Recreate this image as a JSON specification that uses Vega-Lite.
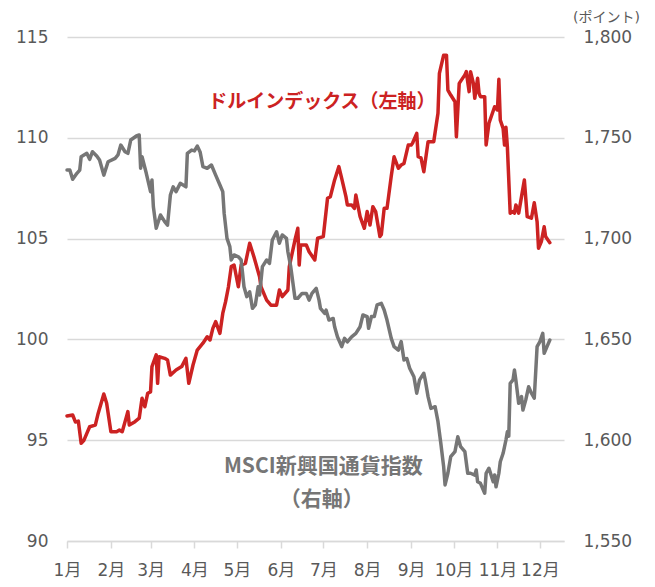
{
  "$schema": "https://vega.github.io/schema/vega-lite/v6.json",
  "width": 497,
  "height": 504,
  "autosize": {"type": "none"},
  "padding": {"left": 67, "top": 37, "right": 91, "bottom": 46},
  "background": "white",
  "config": {
    "view": {"stroke": null},
    "font": "DejaVu Sans, Noto Sans CJK JP",
    "axis": {"labelFont": "DejaVu Sans, Noto Sans CJK JP", "labelFontSize": 17, "labelColor": "#595959"}
  },
  "datasets": {
    "dxy": [
      {"date":"2022-01-01","value":96.2},{"date":"2022-01-05","value":96.25},{"date":"2022-01-07","value":95.9},{"date":"2022-01-09","value":95.95},{"date":"2022-01-11","value":94.85},{"date":"2022-01-13","value":95.0},{"date":"2022-01-15","value":95.34},{"date":"2022-01-17","value":95.67},{"date":"2022-01-21","value":95.75},{"date":"2022-01-23","value":96.33},{"date":"2022-01-27","value":97.29},{"date":"2022-01-29","value":96.83},
      {"date":"2022-02-01","value":95.42},{"date":"2022-02-05","value":95.42},{"date":"2022-02-07","value":95.5},{"date":"2022-02-09","value":95.42},{"date":"2022-02-12","value":96.17},{"date":"2022-02-13","value":96.42},{"date":"2022-02-14","value":95.75},{"date":"2022-02-18","value":95.92},{"date":"2022-02-21","value":96.09},{"date":"2022-02-23","value":97.08},{"date":"2022-02-25","value":96.66},{"date":"2022-02-27","value":97.33},
      {"date":"2022-03-01","value":97.4},{"date":"2022-03-02","value":98.65},{"date":"2022-03-05","value":99.23},{"date":"2022-03-06","value":97.82},{"date":"2022-03-07","value":99.14},{"date":"2022-03-11","value":99.06},{"date":"2022-03-13","value":98.98},{"date":"2022-03-15","value":98.23},{"date":"2022-03-19","value":98.48},{"date":"2022-03-23","value":98.65},{"date":"2022-03-26","value":99.06},{"date":"2022-03-28","value":97.82},{"date":"2022-03-31","value":98.73},
      {"date":"2022-04-03","value":99.47},{"date":"2022-04-07","value":99.81},{"date":"2022-04-10","value":100.13},{"date":"2022-04-12","value":99.97},{"date":"2022-04-14","value":100.55},{"date":"2022-04-16","value":100.88},{"date":"2022-04-19","value":100.3},{"date":"2022-04-21","value":101.29},{"date":"2022-04-23","value":101.87},{"date":"2022-04-25","value":102.6},{"date":"2022-04-27","value":103.61},{"date":"2022-04-29","value":103.69},
      {"date":"2022-05-02","value":102.61},{"date":"2022-05-04","value":103.69},{"date":"2022-05-07","value":103.77},{"date":"2022-05-10","value":104.77},{"date":"2022-05-13","value":104.1},{"date":"2022-05-17","value":103.11},{"date":"2022-05-18","value":102.61},{"date":"2022-05-22","value":101.95},{"date":"2022-05-25","value":101.7},{"date":"2022-05-29","value":101.7},{"date":"2022-05-31","value":102.45},
      {"date":"2022-06-02","value":102.12},{"date":"2022-06-06","value":102.45},{"date":"2022-06-07","value":103.61},{"date":"2022-06-11","value":104.93},{"date":"2022-06-13","value":105.51},{"date":"2022-06-14","value":103.69},{"date":"2022-06-15","value":104.68},{"date":"2022-06-19","value":104.68},{"date":"2022-06-21","value":104.35},{"date":"2022-06-25","value":103.94},{"date":"2022-06-27","value":105.02},
      {"date":"2022-07-01","value":105.1},{"date":"2022-07-04","value":107.0},{"date":"2022-07-06","value":107.08},{"date":"2022-07-09","value":107.91},{"date":"2022-07-12","value":108.57},{"date":"2022-07-14","value":107.99},{"date":"2022-07-17","value":107.08},{"date":"2022-07-18","value":106.67},{"date":"2022-07-21","value":106.67},{"date":"2022-07-23","value":106.5},{"date":"2022-07-24","value":107.16},{"date":"2022-07-27","value":106.09},{"date":"2022-07-30","value":105.51},
      {"date":"2022-08-01","value":106.34},{"date":"2022-08-03","value":105.67},{"date":"2022-08-05","value":106.58},{"date":"2022-08-07","value":106.34},{"date":"2022-08-10","value":105.1},{"date":"2022-08-11","value":105.2},{"date":"2022-08-13","value":106.5},{"date":"2022-08-15","value":106.5},{"date":"2022-08-18","value":108.1},{"date":"2022-08-20","value":109.06},{"date":"2022-08-23","value":108.49},{"date":"2022-08-25","value":108.65},{"date":"2022-08-27","value":108.73},{"date":"2022-08-30","value":109.64},
      {"date":"2022-09-01","value":109.64},{"date":"2022-09-02","value":109.73},{"date":"2022-09-05","value":110.22},{"date":"2022-09-06","value":109.06},{"date":"2022-09-08","value":109.0},{"date":"2022-09-10","value":108.32},{"date":"2022-09-13","value":109.81},{"date":"2022-09-17","value":109.81},{"date":"2022-09-20","value":111.22},{"date":"2022-09-21","value":113.2},{"date":"2022-09-24","value":114.1},{"date":"2022-09-26","value":114.1},{"date":"2022-09-27","value":112.37},{"date":"2022-09-29","value":112.12},
      {"date":"2022-10-02","value":111.79},{"date":"2022-10-03","value":110.05},{"date":"2022-10-05","value":112.7},{"date":"2022-10-09","value":113.12},{"date":"2022-10-10","value":113.28},{"date":"2022-10-12","value":112.29},{"date":"2022-10-13","value":113.28},{"date":"2022-10-15","value":112.7},{"date":"2022-10-16","value":111.96},{"date":"2022-10-18","value":112.95},{"date":"2022-10-19","value":112.21},{"date":"2022-10-20","value":112.04},{"date":"2022-10-23","value":112.04},{"date":"2022-10-24","value":109.64},{"date":"2022-10-26","value":110.72},{"date":"2022-10-30","value":111.54},
      {"date":"2022-11-01","value":111.38},{"date":"2022-11-02","value":112.9},{"date":"2022-11-03","value":110.88},{"date":"2022-11-05","value":110.47},{"date":"2022-11-06","value":109.64},{"date":"2022-11-07","value":110.52},{"date":"2022-11-08","value":109.56},{"date":"2022-11-10","value":106.26},{"date":"2022-11-12","value":106.34},{"date":"2022-11-13","value":106.26},{"date":"2022-11-14","value":106.67},{"date":"2022-11-16","value":106.26},{"date":"2022-11-18","value":107.08},{"date":"2022-11-20","value":107.91},{"date":"2022-11-22","value":106.09},{"date":"2022-11-25","value":106.01},{"date":"2022-11-27","value":106.78},{"date":"2022-11-29","value":105.84},{"date":"2022-11-30","value":104.52},
      {"date":"2022-12-02","value":104.85},{"date":"2022-12-04","value":105.59},{"date":"2022-12-05","value":105.1},{"date":"2022-12-08","value":104.8}
    ],
    "em": [
      {"date":"2022-01-01","value":1734.0},{"date":"2022-01-03","value":1734.0},{"date":"2022-01-05","value":1729.4},{"date":"2022-01-08","value":1732.4},{"date":"2022-01-10","value":1734.0},{"date":"2022-01-11","value":1740.6},{"date":"2022-01-15","value":1742.3},{"date":"2022-01-17","value":1739.3},{"date":"2022-01-19","value":1743.1},{"date":"2022-01-22","value":1741.0},{"date":"2022-01-24","value":1739.0},{"date":"2022-01-27","value":1731.5},{"date":"2022-01-30","value":1738.1},
      {"date":"2022-02-04","value":1739.8},{"date":"2022-02-06","value":1741.5},{"date":"2022-02-08","value":1746.4},{"date":"2022-02-11","value":1743.1},{"date":"2022-02-13","value":1742.3},{"date":"2022-02-15","value":1748.9},{"date":"2022-02-19","value":1750.9},{"date":"2022-02-21","value":1751.4},{"date":"2022-02-22","value":1734.9},{"date":"2022-02-23","value":1740.6},{"date":"2022-02-26","value":1732.4},
      {"date":"2022-03-01","value":1723.3},{"date":"2022-03-02","value":1729.1},{"date":"2022-03-03","value":1715.8},{"date":"2022-03-05","value":1705.1},{"date":"2022-03-08","value":1711.7},{"date":"2022-03-11","value":1708.4},{"date":"2022-03-13","value":1706.7},{"date":"2022-03-15","value":1721.6},{"date":"2022-03-17","value":1725.7},{"date":"2022-03-19","value":1723.3},{"date":"2022-03-22","value":1727.4},{"date":"2022-03-24","value":1726.6},{"date":"2022-03-26","value":1725.7},{"date":"2022-03-27","value":1742.3},{"date":"2022-03-30","value":1743.9},
      {"date":"2022-04-01","value":1743.5},{"date":"2022-04-03","value":1745.9},{"date":"2022-04-05","value":1743.0},{"date":"2022-04-07","value":1735.7},{"date":"2022-04-10","value":1734.9},{"date":"2022-04-13","value":1736.5},{"date":"2022-04-16","value":1731.5},{"date":"2022-04-19","value":1726.6},{"date":"2022-04-21","value":1723.3},{"date":"2022-04-22","value":1712.5},{"date":"2022-04-24","value":1700.1},{"date":"2022-04-26","value":1696.0},{"date":"2022-04-27","value":1689.4},{"date":"2022-04-29","value":1691.9},
      {"date":"2022-05-02","value":1691.0},{"date":"2022-05-04","value":1689.4},{"date":"2022-05-06","value":1676.1},{"date":"2022-05-08","value":1671.2},{"date":"2022-05-10","value":1673.6},{"date":"2022-05-12","value":1665.4},{"date":"2022-05-14","value":1667.1},{"date":"2022-05-16","value":1676.1},{"date":"2022-05-17","value":1672.0},{"date":"2022-05-19","value":1686.1},{"date":"2022-05-22","value":1689.4},{"date":"2022-05-24","value":1687.7},{"date":"2022-05-26","value":1699.3},{"date":"2022-05-29","value":1703.4},{"date":"2022-05-31","value":1697.7},
      {"date":"2022-06-02","value":1701.8},{"date":"2022-06-05","value":1700.1},{"date":"2022-06-06","value":1693.5},{"date":"2022-06-08","value":1686.1},{"date":"2022-06-11","value":1670.4},{"date":"2022-06-13","value":1670.4},{"date":"2022-06-16","value":1672.8},{"date":"2022-06-19","value":1672.8},{"date":"2022-06-21","value":1669.5},{"date":"2022-06-23","value":1672.8},{"date":"2022-06-26","value":1675.3},{"date":"2022-06-28","value":1669.5},{"date":"2022-06-29","value":1665.4},
      {"date":"2022-07-02","value":1662.9},{"date":"2022-07-03","value":1664.5},{"date":"2022-07-05","value":1659.6},{"date":"2022-07-08","value":1660.4},{"date":"2022-07-09","value":1656.3},{"date":"2022-07-11","value":1651.3},{"date":"2022-07-14","value":1646.4},{"date":"2022-07-16","value":1650.5},{"date":"2022-07-18","value":1648.8},{"date":"2022-07-21","value":1651.3},{"date":"2022-07-24","value":1653.0},{"date":"2022-07-27","value":1656.3},{"date":"2022-07-29","value":1662.1},
      {"date":"2022-08-01","value":1661.3},{"date":"2022-08-02","value":1655.5},{"date":"2022-08-04","value":1661.3},{"date":"2022-08-06","value":1661.3},{"date":"2022-08-08","value":1667.1},{"date":"2022-08-11","value":1667.9},{"date":"2022-08-13","value":1664.6},{"date":"2022-08-15","value":1659.6},{"date":"2022-08-18","value":1650.5},{"date":"2022-08-20","value":1646.4},{"date":"2022-08-23","value":1644.7},{"date":"2022-08-25","value":1648.9},{"date":"2022-08-27","value":1639.8},{"date":"2022-08-29","value":1640.5},{"date":"2022-08-31","value":1635.7},
      {"date":"2022-09-03","value":1631.5},{"date":"2022-09-05","value":1623.3},{"date":"2022-09-07","value":1629.9},{"date":"2022-09-10","value":1633.2},{"date":"2022-09-11","value":1629.9},{"date":"2022-09-13","value":1621.6},{"date":"2022-09-15","value":1615.8},{"date":"2022-09-18","value":1616.6},{"date":"2022-09-20","value":1609.2},{"date":"2022-09-22","value":1598.5},{"date":"2022-09-24","value":1586.9},{"date":"2022-09-25","value":1577.8},{"date":"2022-09-27","value":1583.6},{"date":"2022-09-29","value":1591.8},
      {"date":"2022-10-02","value":1594.3},{"date":"2022-10-04","value":1601.7},{"date":"2022-10-06","value":1596.8},{"date":"2022-10-09","value":1594.3},{"date":"2022-10-11","value":1583.6},{"date":"2022-10-13","value":1583.6},{"date":"2022-10-16","value":1582.7},{"date":"2022-10-17","value":1585.2},{"date":"2022-10-18","value":1579.4},{"date":"2022-10-20","value":1578.6},{"date":"2022-10-23","value":1573.7},{"date":"2022-10-24","value":1583.6},{"date":"2022-10-26","value":1586.1},{"date":"2022-10-29","value":1579.4},{"date":"2022-10-30","value":1582.7},{"date":"2022-10-31","value":1576.9},
      {"date":"2022-11-02","value":1583.6},{"date":"2022-11-03","value":1589.3},{"date":"2022-11-05","value":1593.5},{"date":"2022-11-07","value":1600.1},{"date":"2022-11-08","value":1604.2},{"date":"2022-11-09","value":1602.0},{"date":"2022-11-10","value":1628.2},{"date":"2022-11-12","value":1629.9},{"date":"2022-11-13","value":1634.8},{"date":"2022-11-14","value":1629.9},{"date":"2022-11-16","value":1618.3},{"date":"2022-11-18","value":1621.6},{"date":"2022-11-19","value":1615.0},{"date":"2022-11-21","value":1620.0},{"date":"2022-11-23","value":1626.5},{"date":"2022-11-25","value":1623.3},{"date":"2022-11-27","value":1620.8},{"date":"2022-11-29","value":1646.4},
      {"date":"2022-12-01","value":1648.9},{"date":"2022-12-03","value":1653.0},{"date":"2022-12-04","value":1643.1},{"date":"2022-12-06","value":1646.4},{"date":"2022-12-08","value":1649.7}
    ]
  },
  "encoding": {
    "x": {
      "field": "date",
      "type": "temporal",
      "scale": {"type": "utc", "domain": [{"year": 2022, "month": 1, "date": 1, "utc": true}, {"year": 2022, "month": 12, "date": 18, "utc": true}]},
      "axis": {
        "title": null,
        "grid": false,
        "domain": true,
        "domainColor": "#d9d9d9",
        "domainWidth": 1.5,
        "ticks": true,
        "tickColor": "#d9d9d9",
        "tickWidth": 1.5,
        "tickSize": 7,
        "labelPadding": 14,
        "labelAlign": "center",
        "labelOverlap": false,
        "labelExpr": "(utcmonth(datum.value) + 1) + '月'",
        "values": [
          {"year": 2022, "month": 1, "date": 1, "utc": true},
          {"year": 2022, "month": 2, "date": 1, "utc": true},
          {"year": 2022, "month": 3, "date": 1, "utc": true},
          {"year": 2022, "month": 4, "date": 1, "utc": true},
          {"year": 2022, "month": 5, "date": 1, "utc": true},
          {"year": 2022, "month": 6, "date": 1, "utc": true},
          {"year": 2022, "month": 7, "date": 1, "utc": true},
          {"year": 2022, "month": 8, "date": 1, "utc": true},
          {"year": 2022, "month": 9, "date": 1, "utc": true},
          {"year": 2022, "month": 10, "date": 1, "utc": true},
          {"year": 2022, "month": 11, "date": 1, "utc": true},
          {"year": 2022, "month": 12, "date": 1, "utc": true}
        ]
      }
    }
  },
  "layer": [
    {
      "data": {"name": "dxy"},
      "mark": {"type": "line", "color": "#cc2222", "strokeWidth": 3.5, "strokeJoin": "round", "strokeCap": "round"},
      "encoding": {
        "y": {
          "field": "value",
          "type": "quantitative",
          "scale": {"domain": [90, 115], "nice": false, "zero": false},
          "axis": {
            "title": null,
            "orient": "left",
            "values": [90, 95, 100, 105, 110, 115],
            "domain": false,
            "ticks": false,
            "tickSize": 0,
            "labelPadding": 19,
            "grid": true,
            "gridColor": "#d9d9d9",
            "gridWidth": 1.5
          }
        }
      }
    },
    {
      "data": {"name": "em"},
      "mark": {"type": "line", "color": "#767676", "strokeWidth": 3.5, "strokeJoin": "round", "strokeCap": "round"},
      "encoding": {
        "y": {
          "field": "value",
          "type": "quantitative",
          "scale": {"domain": [1550, 1800], "nice": false, "zero": false},
          "axis": {
            "title": "(ポイント)",
            "titleAngle": 0,
            "titleAlign": "center",
            "titleBaseline": "middle",
            "titleX": 42,
            "titleY": -20,
            "titleFontSize": 14,
            "titleFontWeight": "normal",
            "titleColor": "#595959",
            "titleFont": "DejaVu Sans, Noto Sans CJK JP",
            "orient": "right",
            "values": [1550, 1600, 1650, 1700, 1750, 1800],
            "format": ",.0f",
            "domain": false,
            "ticks": false,
            "tickSize": 0,
            "labelPadding": 19,
            "grid": false
          }
        }
      }
    },
    {
      "data": {"values": [{"date": "2022-06-30", "value": 111.8, "label": "ドルインデックス（左軸）"}]},
      "mark": {"type": "text", "color": "#cc2222", "fontSize": 19, "fontWeight": "bold", "font": "Noto Sans CJK JP", "align": "center", "baseline": "middle"},
      "encoding": {
        "y": {"field": "value", "type": "quantitative", "scale": {"domain": [90, 115], "nice": false, "zero": false}, "axis": null},
        "text": {"field": "label"}
      }
    },
    {
      "data": {"values": [{"date": "2022-07-01", "value": 93.67, "label": "MSCI新興国通貨指数"}, {"date": "2022-06-30", "value": 92.03, "label": "（右軸）"}]},
      "mark": {"type": "text", "color": "#767676", "fontSize": 21, "fontWeight": "bold", "font": "Noto Sans CJK JP", "align": "center", "baseline": "middle"},
      "encoding": {
        "y": {"field": "value", "type": "quantitative", "scale": {"domain": [90, 115], "nice": false, "zero": false}, "axis": null},
        "text": {"field": "label"}
      }
    }
  ],
  "resolve": {"scale": {"y": "independent"}}
}
